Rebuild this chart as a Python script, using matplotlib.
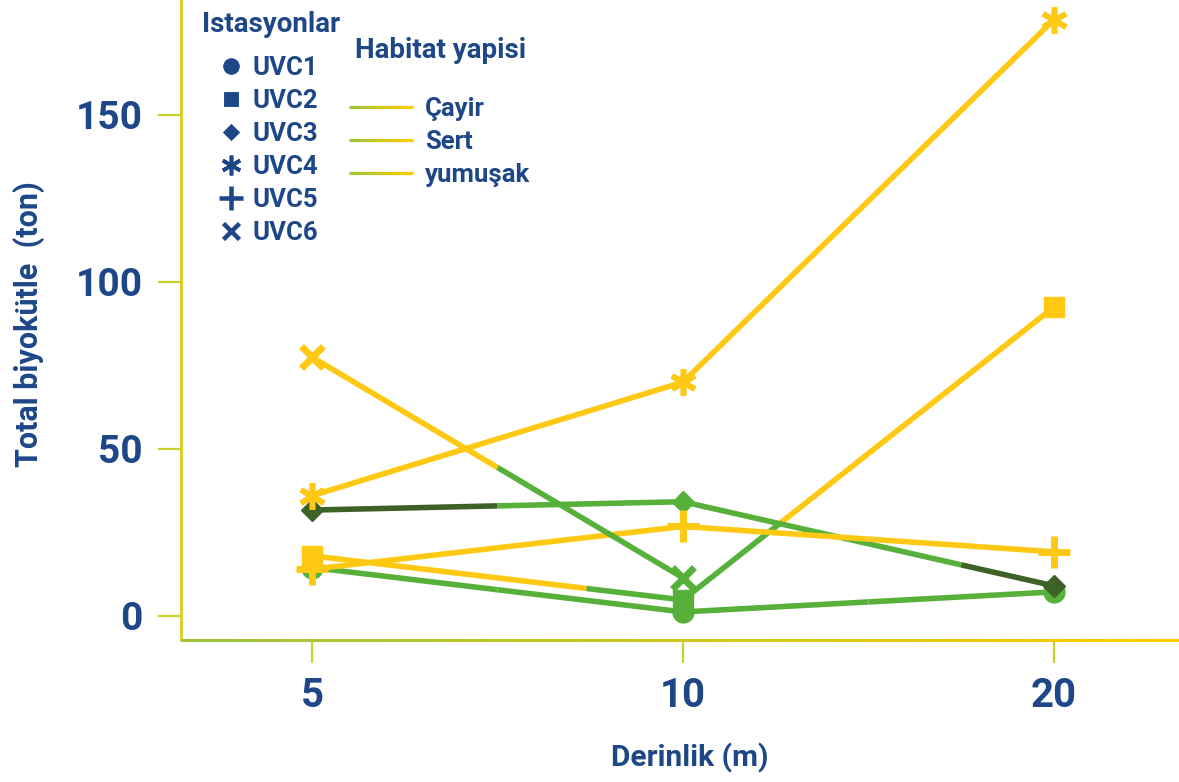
import numpy as np
import matplotlib
matplotlib.use("Agg")
import matplotlib.pyplot as plt
from matplotlib.lines import Line2D
from matplotlib.legend_handler import HandlerBase
from matplotlib.colors import to_rgb

plt.rcParams['font.family'] = ['Roboto', 'DejaVu Sans']

# data
depths = ['5', '10', '20']
stations = ['UVC1', 'UVC2', 'UVC3', 'UVC4', 'UVC5', 'UVC6']
habitats = ['Çayir', 'Sert', 'yumuşak']

uvc1 = [14.5, 1.2, 7.2]
uvc2 = [18.0, 4.8, 92.5]
uvc3 = [31.7, 34.2, 9.0]
uvc4 = [36.0, 70.0, 178.5]
uvc5 = [14.0, 26.8, 19.2]
uvc6 = [77.5, 11.4]

uvc1_hab = ['Sert', 'Sert', 'Sert']
uvc2_hab = ['yumuşak', 'Sert', 'yumuşak']
uvc3_hab = ['Çayir', 'Sert', 'Çayir']
uvc4_hab = ['yumuşak', 'yumuşak', 'yumuşak']
uvc5_hab = ['yumuşak', 'yumuşak', 'yumuşak']
uvc6_hab = ['yumuşak', 'Sert']

# fraction along each segment where the colour switches
uvc1_split = [0.5, 0.5]
uvc2_split = [0.74, 0.26]
uvc3_split = [0.5, 0.75]
uvc4_split = [0.5, 0.5]
uvc5_split = [0.5, 0.5]
uvc6_split = [0.5]

NAVY = '#1E4788'
YEL = '#FFC812'
GRN = '#56B03A'
DGRN = '#3E6128'
AXC = '#C9D22B'
GRAD0 = '#9DC43A'
GRAD1 = '#FFCC00'
hab_colors = {'Çayir': DGRN, 'Sert': GRN, 'yumuşak': YEL}

series = [
    (uvc1, uvc1_hab, uvc1_split, dict(marker='o', ms=15)),
    (uvc2, uvc2_hab, uvc2_split, dict(marker='s', ms=14)),
    (uvc3, uvc3_hab, uvc3_split, dict(marker='D', ms=11)),
    (uvc4, uvc4_hab, uvc4_split, dict(marker=(6, 2, 0), ms=19, mew=4)),
    (uvc5, uvc5_hab, uvc5_split, dict(marker='+', ms=23, mew=5)),
    (uvc6, uvc6_hab, uvc6_split, dict(marker='x', ms=16, mew=5)),
]


def grad_colors(n):
    c0 = np.array(to_rgb(GRAD0))
    c1 = np.array(to_rgb(GRAD1))
    return [tuple(np.clip(c0 + (c1 - c0) * k / (n - 1), 0, 1)) for k in range(n)]


class GradientHandler(HandlerBase):
    """legend line going from green to yellow"""
    def create_artists(self, legend, orig_handle, xdescent, ydescent,
                       width, height, fontsize, trans):
        n = 14
        xs = np.linspace(-xdescent, width - xdescent, n + 1)
        y = height / 2 - ydescent
        arts = []
        for k, c in enumerate(grad_colors(n)):
            x1 = xs[k + 1] + (1.0 if k < n - 1 else 0.0)
            arts.append(Line2D([xs[k], x1], [y, y], color=c, lw=2.3,
                               solid_capstyle='butt', transform=trans))
        return arts


fig = plt.figure(figsize=(11.79, 7.82), dpi=100)
ax = fig.add_axes([181 / 1179, 142 / 782, 1 - 181 / 1179, 1 - 142 / 782])

xpos = np.arange(len(depths))
for vals, habs, splits, mk in series:
    for i in range(len(vals) - 1):
        f = splits[i]
        x0, x1 = xpos[i], xpos[i + 1]
        y0, y1 = vals[i], vals[i + 1]
        xm = x0 + f * (x1 - x0)
        ym = y0 + f * (y1 - y0)
        ax.plot([x0, xm], [y0, ym], color=hab_colors[habs[i]], lw=4,
                solid_capstyle='butt', zorder=2)
        ax.plot([xm, x1], [ym, y1], color=hab_colors[habs[i + 1]], lw=4,
                solid_capstyle='butt', zorder=2)
    for i, v in enumerate(vals):
        c = hab_colors[habs[i]]
        ax.plot(xpos[i], v, linestyle='none', color=c, mfc=c, mec=c, zorder=3, **mk)

ax.set_xlim(-0.353, 2.337)
ax.set_ylim(-7.2, 184.4)
ax.set_xticks(xpos)
ax.set_xticklabels(depths)
ax.set_yticks([0, 50, 100, 150])

for s in ['top', 'right', 'bottom']:
    ax.spines[s].set_visible(False)
ax.spines['left'].set_color('#D6CF1A')
ax.spines['left'].set_linewidth(2)

# bottom axis line: green -> yellow (segments overlap a little to avoid seams)
nb = 40
bx = np.linspace(0, 1, nb + 1)
for k, c in enumerate(grad_colors(nb)):
    ax.plot([bx[k], min(bx[k + 1] + 0.004, 1)], [0, 0], color=c, lw=2.2,
            transform=ax.transAxes, clip_on=False, solid_capstyle='butt', zorder=4)

ax.tick_params(axis='both', color=AXC, width=1.6, length=16.5, labelcolor=NAVY)
ax.tick_params(axis='y', pad=11, labelsize=28)
ax.tick_params(axis='x', pad=10, labelsize=29)
for lab in ax.get_xticklabels() + ax.get_yticklabels():
    lab.set_fontweight('bold')

ax.set_ylabel('Total biyokütle  (ton)', color=NAVY, fontsize=22, fontweight='bold')
ax.yaxis.set_label_coords((45 - 181) / 998, (640 - 324) / 640)
ax.set_xlabel('Derinlik (m)', color=NAVY, fontsize=21.5, fontweight='bold')
ax.xaxis.set_label_coords((690 - 181) / 998, -(743 - 640) / 640)

# legends
fig.text(202 / 1179, 1 - 32 / 782, 'Istasyonlar', color=NAVY, fontsize=20,
         fontweight='bold', ha='left', va='baseline')
fig.text(355 / 1179, 1 - 58 / 782, 'Habitat yapisi', color=NAVY, fontsize=20,
         fontweight='bold', ha='left', va='baseline')

st_handles = [Line2D([], [], linestyle='none', color=NAVY, mfc=NAVY, mec=NAVY,
                     **dict(mk, ms=mk['ms'] * 0.75, mew=mk.get('mew', 1) * 0.65))
              for _, _, _, mk in series]
leg1 = ax.legend(st_handles, stations, loc='upper left',
                 bbox_to_anchor=(218 / 1179, 1 - 56 / 782), bbox_transform=fig.transFigure,
                 frameon=False, fontsize=18.5,
                 labelspacing=0.35, handlelength=1.0, handletextpad=0.36,
                 borderpad=0, borderaxespad=0)
for t in leg1.get_texts():
    t.set_color(NAVY)
    t.set_fontweight('bold')
ax.add_artist(leg1)

hab_handles = [Line2D([], []) for _ in habitats]
leg2 = ax.legend(hab_handles, habitats, loc='upper left',
                 bbox_to_anchor=(349 / 1179, 1 - 97 / 782), bbox_transform=fig.transFigure,
                 frameon=False, fontsize=18.5,
                 labelspacing=0.35, handlelength=2.5, handletextpad=0.47,
                 borderpad=0, borderaxespad=0,
                 handler_map={Line2D: GradientHandler()})
for t in leg2.get_texts():
    t.set_color(NAVY)
    t.set_fontweight('bold')

fig.savefig('out.png', dpi=100)
